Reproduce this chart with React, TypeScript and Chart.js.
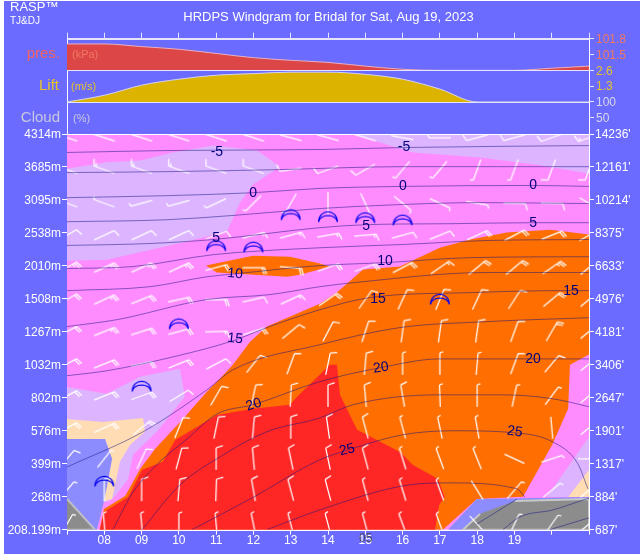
import React, { useEffect, useRef } from "react";
import { Chart, registerables } from "chart.js";

Chart.register(...registerables);

type P = [number, number];

const leftLabels = ["4314m", "3685m", "3095m", "2538m", "2010m", "1508m", "1267m", "1032m", "802m", "576m", "399m", "268m", "208.199m"];
const rightLabels = ["14236'", "12161'", "10214'", "8375'", "6633'", "4976'", "4181'", "3406'", "2647'", "1901'", "1317'", "884'", "687'"];
const hourLabels = ["", "08", "09", "10", "11", "12", "13", "14", "15", "16", "17", "18", "19", "", ""];
const hours = [7, 8, 9, 10, 11, 12, 13, 14, 15, 16, 17, 18, 19, 20, 21];

const pressure = [101.7, 101.7, 101.65, 101.6, 101.52, 101.44, 101.39, 101.35, 101.28, 101.22, 101.2, 101.2, 101.2, 101.24, 101.28];
const lift = [0, 0.55, 1.38, 1.87, 2.2, 2.33, 2.45, 2.45, 2.27, 1.87, 1.06, 0, 0, 0, 0];
const cloud = [0, 0, 0, 0, 0, 0, 0, 0, 0, 0, 0, 0, 0, 0, 0];

const lavenderTop: P[] = [[7,10.95],[8.07,11.14],[8.96,11.2],[9.84,11.44],[10.92,11.65],[12.1,11.5],[12.71,11.01],[11.99,10.47],[11.64,9.92],[11.29,9.04],[10.22,8.74],[8.07,8.19],[7,8.16]];
const lavenderTopRight: P[] = [[14.67,12],[15.31,11.77],[16.28,11.44],[18.08,11.29],[19.6,11.07],[21,10.8],[21,12]];
const orangeLens: P[] = [[10.73,8.01],[11.99,8.31],[12.98,8.28],[13.78,8.07],[14.05,7.98],[13.25,7.73],[12.9,7.67],[11.02,7.8]];
const orangeMain: P[] = [[7.99,0.63],[8.56,1.02],[8.96,1.84],[9.36,2.45],[9.84,3.03],[10.11,3.36],[10.75,4.18],[11.1,4.58],[11.45,5],[11.91,5.7],[12.36,6.16],[13.78,6.85],[14.24,7.19],[14.94,7.89],[15.93,7.98],[17,8.55],[17.81,8.8],[18.8,9.01],[19.95,9.1],[21,8.95],[21,5.31],[20.49,5],[20.44,3.67],[20.01,2.57],[19.23,1],[17.99,0.93],[17.08,0],[7.88,0]];
const redMain: P[] = [[7.88,0],[7.99,0.54],[8.64,0.99],[9.01,1.81],[9.57,2.06],[9.9,2.72],[11.02,3.48],[11.99,3.67],[12.98,3.79],[13.17,4.03],[13.78,4.7],[14.05,5],[14.24,5],[14.32,4.09],[14.78,3.03],[15.93,2.36],[16.28,1.96],[16.95,1.54],[17.13,0.99],[16.98,0.75],[16.87,0]];
const lavenderLow: P[] = [[7,4.33],[8.07,4.12],[8.96,4.64],[10.03,4.88],[10.16,4.03],[9.41,2.97],[8.77,2.27],[8.64,1.54],[8.23,0.93],[8.07,0.84],[7,0.84]];
const peachLow: P[] = [[7,3.36],[7.97,3.27],[9.04,3.39],[9.09,2.97],[8.69,2.57],[8.42,2.06],[8.21,0.93],[8.02,0.87],[7,0.87]];
const blueLow: P[] = [[7,2.75],[8.02,2.75],[8.21,2.15],[8.07,1.3],[7.97,0.75],[7.8,0],[7,0]];
const grayLeft: P[] = [[7,0.93],[7.75,0],[7,0]];
const lavenderRight: P[] = [[21,2.82],[19.87,0.99],[21,0.99]];
const peachRight: P[] = [[21,1.81],[20.44,0.99],[21,0.99]];
const blueRight: P[] = [[17.99,0.93],[21,0.99],[21,0],[17.22,0]];
const grayRight: P[] = [[19.01,0.87],[21,0.93],[21,0],[17.62,0],[18.08,0.48]];

const contours: P[][] = [
  [[7,11.44],[9.76,11.5],[13.78,11.53],[16.01,11.59],[21,11.65]],
  [[7,10.83],[9.76,10.86],[12.66,10.92],[16.01,11.01],[21,11.01]],
  [[7,10.07],[9.68,10.13],[11.99,10.22],[13.78,10.35],[15.93,10.41],[19.5,10.44],[21,10.41]],
  [[7,9.34],[9.68,9.4],[11.45,9.53],[13.78,9.74],[15.93,9.86],[18.08,9.92],[21,9.89]],
  [[7,8.62],[9.23,8.68],[10.92,8.8],[13.78,9.16],[15.02,9.25],[17.27,9.28],[19.5,9.31],[21,9.31]],
  [[7,7.92],[8.77,7.98],[10.92,8.34],[13.78,8.55],[16.01,8.65],[18.26,8.77],[21,8.8]],
  [[7,7.25],[9.23,7.37],[10.75,7.67],[11.51,7.76],[13.78,8.01],[15.53,8.1],[17.81,8.25],[21,8.28]],
  [[7,6.16],[8.34,6.37],[10.75,6.98],[12.44,7.13],[13.78,7.37],[14.67,7.49],[18.26,7.8],[21,7.8]],
  [[7,4.67],[8.07,4.82],[9.95,5.27],[11.45,5.73],[12.36,6.13],[13.78,6.67],[15.13,7.04],[17.81,7.19],[20.3,7.25],[21,7.25]],
  [[7,1.9],[9.04,2.97],[10.75,4.24],[11.45,4.85],[13.78,5.61],[15.93,6.13],[18.26,6.31],[21,6.43]],
  [[8.23,0],[8.77,1.14],[9.49,2.06],[10.22,2.75],[11.02,3.51],[11.99,3.79],[13.78,4.49],[15.39,4.91],[17,5.18],[21,5.18]],
  [[9.01,0],[10.03,1.36],[11.02,2.15],[12.36,2.97],[13.78,3.39],[14.67,3.79],[17,4.09],[18.69,4.09],[20.03,3.97],[21,3.73]],
  [[10.35,0],[11.91,0.93],[13.78,2.12],[14.54,2.42],[16.01,2.88],[17.35,3],[19.01,2.94],[20.03,2.66],[20.7,2],[20.97,1.24]],
  [[12.36,0],[13.78,0.6],[16.01,1.33],[17.19,1.42],[19.07,1.24],[19.28,0.99]],
  [[17.99,0.17],[19.07,0.93]],
  [[18.69,0],[19.15,0.39],[20.03,0.6],[21,0.96]],
  [[19.95,0],[21,0.36]],
];

const contourLabelText = ["-5","-5","0","0","0","5","5","5","10","10","15","15","15","20","20","20","25","25"];
const contourLabelHour = [11.02,16.04,11.99,16.01,19.5,11,15.02,19.5,11.51,15.53,11.51,15.34,20.52,12.01,15.42,19.5,14.51,19.01];
const contourLabelLevel = [11.44,11.59,10.22,10.41,10.44,8.83,9.22,9.31,7.76,8.13,5.79,7,7.25,3.79,4.91,5.18,2.42,2.97];
const contourLabelTilt = [0,0,0,0,0,0,0,0,5,0,6,0,0,-18,-8,0,-14,8];

const gliderHours = [8, 9, 10, 11, 12, 13, 14, 15, 16, 17];
const gliderLevels = [1.48, 4.36, 6.25, 8.62, 8.58, 9.56, 9.5, 9.47, 9.4, 7];

const barbLevels = [11.89, 10.92, 9.9, 8.93, 7.95, 6.98, 6.01, 5.03, 4.06, 3.09, 2.15, 1.2, 0.17];
const barbDirs: (number | null)[][] = [
  [288,288,288,288,288,288,285,285,287,280,270,255,255,250,250],
  [290,290,290,290,290,290,262,250,240,220,220,200,200,200,200],
  [290,290,255,255,245,225,210,180,155,130,115,100,92,92,120],
  [60,65,65,65,70,75,75,80,85,75,68,65,62,68,60],
  [60,65,65,65,75,90,95,70,70,62,55,50,50,55,50],
  [60,65,68,78,90,78,65,55,35,25,22,25,33,50,50],
  [62,68,72,75,88,72,50,28,18,8,8,8,20,30,50],
  [62,68,78,68,62,38,20,12,5,0,0,5,20,40,50],
  [62,68,70,58,30,12,3,0,355,350,358,0,12,37,50],
  [62,65,50,22,12,5,0,352,345,345,348,350,null,355,50],
  [40,38,25,15,0,355,348,348,345,343,340,338,295,72,90],
  [40,0,0,5,2,350,345,345,345,343,340,328,40,50,50],
  [30,355,355,0,355,348,345,345,345,340,340,318,25,35,50],
];
const barbSpeeds: number[][] = [
  [20,20,20,20,20,20,20,15,15,10,10,10,10,10,15],
  [15,15,15,15,10,10,10,10,10,5,5,5,5,10,10],
  [5,5,5,5,5,5,5,0,0,5,5,5,10,10,5],
  [10,10,10,10,10,15,15,15,15,10,10,20,20,20,20],
  [25,25,25,25,20,20,20,20,20,20,15,20,20,25,20],
  [20,25,20,20,20,10,15,20,10,10,10,10,10,20,20],
  [20,25,20,20,15,20,10,10,10,10,10,10,10,20,20],
  [20,20,20,20,10,10,10,10,10,5,5,5,10,10,10],
  [20,20,20,10,10,10,10,10,10,10,5,5,5,5,5],
  [20,20,20,10,10,10,10,10,10,5,5,5,0,0,5],
  [10,5,10,10,10,10,10,10,10,5,5,5,0,5,0],
  [5,10,10,10,10,10,10,10,5,5,5,0,5,5,5],
  [5,5,5,5,5,5,5,5,5,5,5,0,5,5,5],
];

const FONT = '"Liberation Sans", Arial, sans-serif';

function barbImage(dir: number, speed: number): HTMLCanvasElement {
  const c = document.createElement("canvas");
  c.width = 40;
  c.height = 40;
  const g = c.getContext("2d")!;
  const a = (dir * Math.PI) / 180;
  const dx = Math.sin(a), dy = -Math.cos(a);
  const b = ((dir + 72) * Math.PI) / 180;
  const fx = Math.sin(b), fy = -Math.cos(b);
  const half = 11;
  g.strokeStyle = "#FFFFFF";
  g.lineWidth = 1.25;
  g.beginPath();
  g.moveTo(20 - dx * half, 20 - dy * half);
  g.lineTo(20 + dx * half, 20 + dy * half);
  let left = speed;
  let along = half;
  while (left > 0) {
    const len = left >= 10 ? 7 : 3.5;
    const sx = 20 + dx * along, sy = 20 + dy * along;
    g.moveTo(sx, sy);
    g.lineTo(sx + fx * len, sy + fy * len);
    left -= left >= 10 ? 10 : 5;
    along -= 2.4;
  }
  g.stroke();
  return c;
}

function gliderImage(): HTMLCanvasElement {
  const c = document.createElement("canvas");
  c.width = 24;
  c.height = 14;
  const g = c.getContext("2d")!;
  g.strokeStyle = "#0000F0";
  g.lineWidth = 1.1;
  g.beginPath();
  g.moveTo(2.5, 12.5);
  g.bezierCurveTo(3, -1, 21, -1, 21.5, 12.5);
  g.moveTo(2.5, 12.5);
  g.bezierCurveTo(5, 4, 19, 4, 21.5, 12.5);
  g.stroke();
  return c;
}

const toXY = (pts: P[]) => pts.map(([x, y]) => ({ x, y }));

export default function App() {
  const ref = useRef<HTMLCanvasElement>(null);
  useEffect(() => {
    document.body.style.margin = "0";
    const polygon = (pts: P[], color: string, border = 0, borderColor = color) => ({
      data: toXY(pts), yAxisID: "yMain", backgroundColor: color, borderColor, borderWidth: border,
      fill: "shape", pointRadius: 0, tension: 0,
    });
    const series = (vals: number[], axis: string, fillC: string, line: string) => ({
      data: hours.map((x, i) => ({ x, y: vals[i] })), yAxisID: axis, backgroundColor: fillC, borderColor: line,
      borderWidth: 1, fill: "start", pointRadius: 0, cubicInterpolationMode: "monotone",
    });
    const barbPoints: any[] = [];
    barbLevels.forEach((lv, r) => hours.forEach((h, c) => {
      const d = barbDirs[r][c];
      if (d !== null) barbPoints.push({ x: h, y: lv, dir: d, speed: barbSpeeds[r][c] });
    }));
    const cache = new Map<string, HTMLCanvasElement>();
    const glider = gliderImage();

    const painted: any[] = [
      polygon([[7, 0], [21, 0], [21, 12], [7, 12]], "#FF8CFF"),
      polygon(lavenderTop, "#DCB4FF"),
      polygon(lavenderTopRight, "#DCB4FF"),
      polygon(lavenderLow, "#DCB4FF"),
      polygon(lavenderRight, "#DCB4FF"),
      polygon(peachLow, "#FFDCB4"),
      polygon(peachRight, "#FFDCB4"),
      polygon(blueLow, "#8C8CFF"),
      polygon(orangeLens, "#FF6E00"),
      polygon(orangeMain, "#FF6E00"),
      polygon(redMain, "#FF2626"),
      polygon(blueRight, "#8C8CFF"),
      polygon(grayLeft, "#8C8C8C", 2, "#BEBEC8"),
      polygon(grayRight, "#8C8C8C", 2, "#C8C8C8"),
      {
        data: barbPoints, yAxisID: "yMain", showLine: false, pointRadius: 2, clip: 0,
        pointStyle: (ctx: any) => {
          const raw = ctx.raw;
          if (!raw) return "circle";
          const key = raw.dir + "/" + raw.speed;
          if (!cache.has(key)) cache.set(key, barbImage(raw.dir, raw.speed));
          return cache.get(key);
        },
      },
      ...contours.map((pts) => ({
        data: toXY(pts), yAxisID: "yMain", borderColor: "rgba(20,20,130,0.5)", borderWidth: 1,
        fill: false, pointRadius: 0, cubicInterpolationMode: "monotone",
      })),
      {
        data: gliderHours.map((x, i) => ({ x, y: gliderLevels[i] })), yAxisID: "yMain",
        showLine: false, pointRadius: 2, pointStyle: glider, clip: 0,
      },
      series(pressure, "yPres", "#DC4646", "#E8B0C0"),
      series(lift, "yLift", "#DCB400", "#D4D4F0"),
      series(cloud, "yCloud", "transparent", "rgba(0,0,0,0)"),
    ];
    painted.forEach((d, i) => { d.order = painted.length - i; });

    const fixW = (w: number) => (s: any) => { s.width = w; s.paddingTop = 0; s.paddingBottom = 0; };
    const fixH = (h: number) => (s: any) => { s.height = h; s.paddingLeft = 0; s.paddingRight = 0; };

    const panelAxis = (stack: string, position: string, min: number, max: number, weight: number, stackWeight: number, vals: number[], color: string, digits: number, w: number, showTicks: boolean) => ({
      type: "linear", position, stack, stackWeight, weight, min, max,
      afterFit: fixW(w),
      afterBuildTicks: (s: any) => { s.ticks = vals.map((value) => ({ value })); },
      grid: { drawOnChartArea: false, drawTicks: showTicks, tickLength: 5, color: "#E4E4FF" },
      border: { color: "#FFFFFF", width: 1 },
      ticks: {
        display: showTicks, autoSkip: false, maxRotation: 0, padding: 2, color, labelOffset: 1,
        font: { family: FONT, size: 12 }, callback: (v: number) => v.toFixed(digits),
      },
    });
    const mainAxis = (stack: string, position: string, labels: string[], w: number, weight: number) => ({
      type: "linear", position, stack, stackWeight: 395.2, weight, min: 0, max: 12,
      afterFit: fixW(w),
      grid: { drawOnChartArea: false, tickLength: 5, color: "#FFFFFF" },
      border: { color: "#FFFFFF", width: 1 },
      ticks: {
        stepSize: 1, autoSkip: false, maxRotation: 0, padding: 1, color: "#FFFFFF", labelOffset: 1,
        font: { family: FONT, size: 12 }, callback: (v: number) => labels[12 - v],
      },
    });

    const texts = {
      id: "texts",
      afterDatasetsDraw(chart: any) {
        const g = chart.ctx;
        const x = chart.scales.x, y = chart.scales.yMain;
        g.save();
        g.strokeStyle = "#E4E4FF";
        g.lineWidth = 1;
        [chart.scales.yPres.top, chart.scales.yPres.bottom, chart.scales.yLift.bottom].forEach((py: number) => {
          g.beginPath(); g.moveTo(x.left, Math.round(py) + 0.5); g.lineTo(x.right, Math.round(py) + 0.5); g.stroke();
        });
        g.strokeStyle = "#FFFFFF";
        [y.top, y.bottom].forEach((py: number) => {
          g.beginPath(); g.moveTo(x.left, Math.round(py) + 0.5); g.lineTo(x.right, Math.round(py) + 0.5); g.stroke();
        });
        g.textBaseline = "middle";
        g.textAlign = "center";
        g.fillStyle = "#00007D";
        g.font = "14px " + FONT;
        contourLabelText.forEach((t, i) => {
          g.save();
          g.translate(x.getPixelForValue(contourLabelHour[i]), y.getPixelForValue(contourLabelLevel[i]));
          g.rotate((contourLabelTilt[i] * Math.PI) / 180);
          g.fillText(t, 0, 0);
          g.restore();
        });
        g.restore();
      },
      afterDraw(chart: any) {
        const g = chart.ctx;
        const put = (t: string, px: number, py: number, font: string, color: string, align: CanvasTextAlign = "left") => {
          g.font = font + " " + FONT; g.fillStyle = color; g.textAlign = align; g.textBaseline = "middle";
          g.fillText(t, px, py);
        };
        g.save();
        put("RASP\u2122", 10, 7, "13px", "#FFFFFF");
        put("TJ&DJ", 10, 21, "10px", "#FFFFFF");
        put("HRDPS Windgram for Bridal for Sat, Aug 19, 2023", 328.5, 17.5, "13px", "#FFFFFF", "center");
        put("pres.", 60, 53.5, "15px", "#F06464", "right");
        put("(kPa)", 72, 54.5, "11px", "#F07864", "left");
        put("Lift", 59, 86, "15px", "#E6C328", "right");
        put("(m/s)", 71, 87, "11px", "#E6C328", "left");
        put("Cloud", 60, 118, "15px", "#C8C8E0", "right");
        put("(%)", 73, 119, "11px", "#C8C8E0", "left");
        put("05", chart.scales.x.getPixelForValue(15) + 0.5, 539, "12px", "#505064", "center");
        g.restore();
      },
    };

    const chart = new Chart(ref.current!, {
      type: "line",
      data: { datasets: painted },
      plugins: [texts],
      options: {
        responsive: false,
        animation: false,
        devicePixelRatio: 1,
        events: [],
        layout: { padding: { top: 32.7, left: 0, right: 0, bottom: 0 } },
        plugins: { legend: { display: false }, tooltip: { enabled: false }, title: { display: false } },
        scales: {
          x: {
            type: "linear", position: "bottom", min: 7, max: 21,
            afterFit: fixH(24.3),
            grid: { drawOnChartArea: false, tickLength: 5, color: "#FFFFFF" },
            border: { color: "#FFFFFF", width: 1 },
            ticks: {
              stepSize: 1, autoSkip: false, maxRotation: 0, padding: -1, color: "#FFFFFF",
              font: { family: FONT, size: 12 }, callback: (v: number) => hourLabels[v - 7],
            },
          },
          xTop: {
            type: "linear", position: "top", min: 7, max: 21,
            afterFit: fixH(6),
            grid: { drawOnChartArea: false, tickLength: 6, color: "#E4E4FF" },
            border: { color: "#E4E4FF", width: 1 },
            ticks: { stepSize: 1, display: false, autoSkip: false },
          },
          yMain: mainAxis("left", "left", leftLabels, 67, 1),
          yCloud: panelAxis("left", "left", 0, 100, 2, 32, [], "#C8C8E0", 0, 67, false),
          yLift: panelAxis("left", "left", 0, 2.6, 3, 31.6, [], "#E6C328", 1, 67, false),
          yPres: panelAxis("left", "left", 101.2, 101.8, 4, 31.6, [], "#F06464", 1, 67, false),
          yPresR: panelAxis("right", "right", 101.2, 101.8, 1, 31.6, [101.5, 101.8], "#F07864", 1, 51, true),
          yLiftR: panelAxis("right", "right", 0, 2.6, 2, 31.6, [1.3, 2.6], "#E6C328", 1, 51, true),
          yCloudR: panelAxis("right", "right", 0, 100, 3, 32, [50, 100], "#D8D8EC", 0, 51, true),
          yMainR: mainAxis("right", "right", rightLabels, 51, 4),
        },
      } as any,
    } as any);
    return () => chart.destroy();
  }, []);
  return (
    <div style={{ position: "absolute", left: 0, top: 0, width: 640, height: 554, background: "#FFFFFF", overflow: "hidden" }}>
      <div style={{ position: "absolute", left: 4, top: 1, width: 636, height: 553, background: "#6B6BFF" }} />
      <canvas ref={ref} width={640} height={554} style={{ position: "absolute", left: 0, top: 0, display: "block" }} />
    </div>
  );
}
